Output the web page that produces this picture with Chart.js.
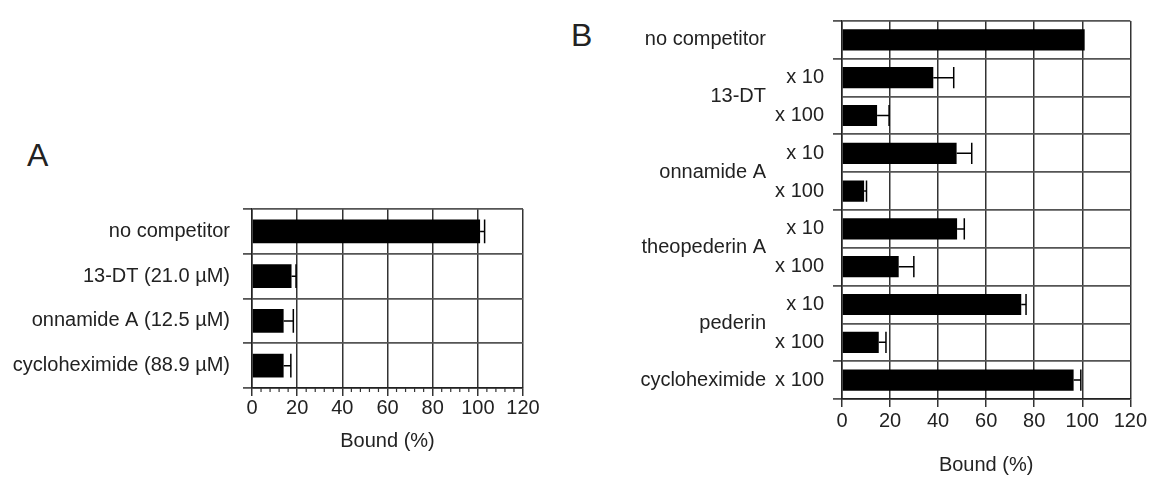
<!DOCTYPE html>
<html><head><meta charset="utf-8">
<script src="https://cdn.jsdelivr.net/npm/chart.js"></script>
<style>
html,body{margin:0;padding:0;background:#fff;width:1149px;height:481px;overflow:hidden;font-family:"Liberation Sans",Arial,sans-serif;}
canvas{position:absolute;top:0;}
#cA{left:0;}
#cB{left:560px;}
.panel{position:absolute;font-size:32px;color:#222;line-height:1;}
</style></head><body>
<div class="panel" style="left:27px;top:139px">A</div>
<div class="panel" style="left:571px;top:19px">B</div>
<canvas id="cA" width="560" height="481"></canvas>
<canvas id="cB" width="589" height="481"></canvas>
<script>
// ---- Panel A data ----
const categoriesA = ['no competitor', '13-DT (21.0 µM)', 'onnamide A (12.5 µM)', 'cycloheximide (88.9 µM)'];
const valuesA = [101, 17.5, 14, 14];
const errorsA = [2, 2, 4.3, 3.2];

// ---- Panel B data ----
const subLabelsB = ['', 'x 10', 'x 100', 'x 10', 'x 100', 'x 10', 'x 100', 'x 10', 'x 100', 'x 100'];
const groupNamesB = ['no competitor', '13-DT', 'onnamide A', 'theopederin A', 'pederin', 'cycloheximide'];
const groupOfRowB = [0, 1, 1, 2, 2, 3, 3, 4, 4, 5];
const valuesB = [101, 38, 14.6, 47.7, 9.2, 47.9, 23.6, 74.6, 15.3, 96.4];
const errorsB = [0, 8.5, 5, 6.3, 1, 3, 6.3, 2, 3, 3];

// ---- Axis ----
const xTicks = [0, 20, 40, 60, 80, 100, 120];
const xMinorStep = 4;
const xTitle = 'Bound (%)';

const TXT = '#222';
const FONT = {family: '"Liberation Sans", Arial, sans-serif', size: 20};
Chart.defaults.font.family = FONT.family;
Chart.defaults.color = TXT;

function makeErrorPlugin(errors) {
  return {
    id: 'errorBars',
    afterDatasetsDraw(chart) {
      const ctx = chart.ctx, xs = chart.scales.x;
      const meta = chart.getDatasetMeta(0);
      const data = chart.data.datasets[0].data;
      ctx.save();
      ctx.strokeStyle = '#000';
      ctx.lineWidth = 1.5;
      meta.data.forEach((bar, i) => {
        const e = errors[i];
        if (!e) return;
        const p = bar.getProps(['y', 'height'], true);
        const x0 = xs.getPixelForValue(data[i]);
        const x1 = xs.getPixelForValue(data[i] + e);
        ctx.beginPath();
        ctx.moveTo(x0, p.y); ctx.lineTo(x1, p.y);
        ctx.moveTo(x1, p.y - p.height / 2); ctx.lineTo(x1, p.y + p.height / 2);
        ctx.stroke();
      });
      ctx.restore();
    }
  };
}

const minorTicksPlugin = {
  id: 'minorTicks',
  afterDraw(chart) {
    const ctx = chart.ctx, xs = chart.scales.x;
    const yb = chart.chartArea.bottom;
    ctx.save();
    ctx.strokeStyle = '#333';
    ctx.lineWidth = 1.2;
    for (let v = xTicks[0]; v <= xTicks[xTicks.length - 1]; v += xMinorStep) {
      if (xTicks.includes(v)) continue;
      const px = xs.getPixelForValue(v);
      ctx.beginPath(); ctx.moveTo(px, yb); ctx.lineTo(px, yb + 4); ctx.stroke();
    }
    ctx.restore();
  }
};

const groupLabelPlugin = {
  id: 'groupLabels',
  afterDraw(chart) {
    const ctx = chart.ctx, ys = chart.scales.y;
    ctx.save();
    ctx.font = FONT.size + 'px ' + FONT.family;
    ctx.fillStyle = TXT;
    ctx.textAlign = 'right';
    ctx.textBaseline = 'middle';
    groupNamesB.forEach((name, g) => {
      const rows = groupOfRowB.map((gr, i) => gr === g ? i : -1).filter(i => i >= 0);
      const y = rows.reduce((s, i) => s + ys.getPixelForValue(i), 0) / rows.length;
      ctx.fillText(name, chart.chartArea.left - 76, y);
    });
    ctx.restore();
  }
};

function xScale(height, pad) {
  return {
    type: 'linear', min: xTicks[0], max: xTicks[xTicks.length - 1],
    afterBuildTicks(s) { s.ticks = xTicks.map(v => ({value: v})); },
    ticks: {font: FONT, color: TXT, padding: pad},
    grid: {color: '#333', lineWidth: 1.5, tickLength: 8, tickColor: '#333'},
    border: {color: '#222', width: 1.5},
    title: {display: true, text: xTitle, font: FONT, color: TXT, padding: {top: 4, bottom: 4}},
    afterFit(s) { s.height = height; }
  };
}

// Panel A
new Chart(document.getElementById('cA'), {
  type: 'bar',
  data: {labels: categoriesA, datasets: [{data: valuesA, backgroundColor: '#000', borderWidth: 0, barPercentage: 0.53, categoryPercentage: 1}]},
  options: {
    indexAxis: 'y', responsive: false, animation: false, devicePixelRatio: 1,
    layout: {padding: {left: 0, top: 209, right: 37, bottom: 24}},
    plugins: {legend: {display: false}, tooltip: {enabled: false}},
    scales: {
      x: xScale(69, 0),
      y: {
        type: 'category', offset: true,
        grid: {offset: true, color: '#555', lineWidth: 1.8, tickLength: 9, tickColor: '#555'},
        border: {color: '#222', width: 1.5},
        ticks: {font: FONT, color: TXT, padding: 13},
        afterFit(s) { s.width = 252; }
      }
    }
  },
  plugins: [makeErrorPlugin(errorsA), minorTicksPlugin]
});

// Panel B
const groupStartsB = groupOfRowB.map((g, i) => (i === 0 || g !== groupOfRowB[i - 1]) ? i : -1).filter(i => i >= 0);
new Chart(document.getElementById('cB'), {
  type: 'bar',
  data: {labels: subLabelsB, datasets: [{data: valuesB, backgroundColor: '#000', borderWidth: 0, barPercentage: 0.56, categoryPercentage: 1}]},
  options: {
    indexAxis: 'y', responsive: false, animation: false, devicePixelRatio: 1,
    layout: {padding: {left: 0, top: 15, right: 17, bottom: 0}},
    plugins: {legend: {display: false}, tooltip: {enabled: false}},
    scales: {
      x: xScale(82, 2),
      y: {
        type: 'category', offset: true,
        grid: {
          offset: true, color: '#555', lineWidth: 1.8, tickLength: 9,
          tickColor: (c) => (c.index === undefined || groupStartsB.includes(c.index)) ? '#555' : 'rgba(0,0,0,0)'
        },
        border: {color: '#222', width: 1.5},
        ticks: {font: FONT, color: TXT, padding: 9},
        afterFit(s) { s.width = 282; }
      }
    }
  },
  plugins: [makeErrorPlugin(errorsB), groupLabelPlugin]
});
</script>
</body></html>
